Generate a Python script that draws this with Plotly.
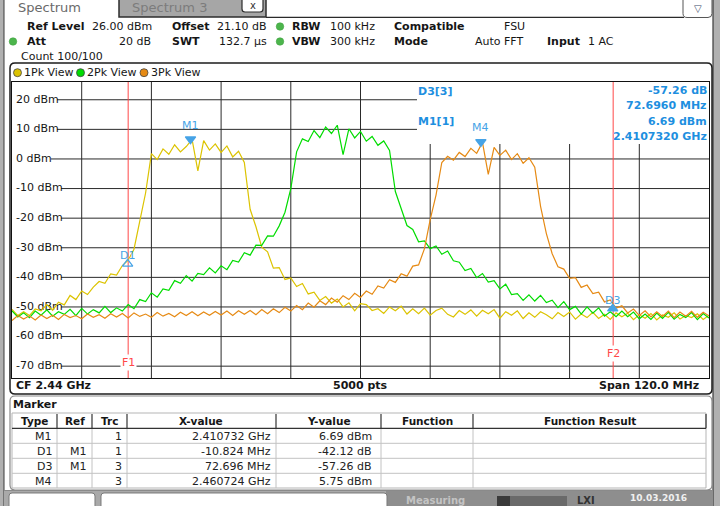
import plotly.graph_objects as go

# ---------------- sweep settings ----------------
f_start_ghz = 2.380
f_stop_ghz = 2.500
n_points = 121
freq_ghz = [round(f_start_ghz + i * (f_stop_ghz - f_start_ghz) / (n_points - 1), 4) for i in range(n_points)]
ref_level_dbm = 26.0
bottom_level_dbm = -74.0

# ---------------- trace values (dBm) ----------------
trace1_dbm = [
    -50.8, -52.9, -51.6, -52.9, -50.7, -51.3, -49.2, -51.1, -48.4, -49.3,
    -46.1, -47.5, -44.6, -45.8, -43.3, -41.4, -42.0, -38.8, -39.2, -36.0,
    -34.2, -30.5, -21.0, -11.5, 1.8, -0.2, 3.4, 1.6, 4.8, 2.4,
    4.2, 6.6, -4.0, 6.2, 3.0, 5.1, 2.2, 4.4, 0.7, 2.6,
    -1.2, -17.0, -22.9, -29.8, -31.4, -36.9, -36.7, -40.7, -40.2, -43.1,
    -42.1, -45.6, -45.0, -47.8, -46.5, -48.7, -47.3, -50.0, -48.6, -51.3,
    -48.9, -49.2, -51.2, -50.6, -52.2, -50.0, -51.3, -49.7, -52.4, -50.6,
    -52.3, -50.4, -52.8, -51.2, -50.4, -52.5, -53.4, -51.2, -52.5, -51.0,
    -53.1, -51.1, -52.3, -50.9, -53.8, -51.6, -52.8, -51.3, -53.9, -52.0,
    -53.5, -51.6, -52.6, -54.0, -51.9, -53.2, -51.7, -54.1, -52.4, -53.6,
    -51.8, -53.9, -52.5, -54.2, -52.0, -53.3, -52.1, -54.3, -52.6, -53.8,
    -52.2, -54.4, -52.7, -53.5, -52.0, -54.1, -52.9, -53.6, -52.3, -54.2,
    -52.8,
]
trace2_dbm = [
    -51.3, -53.4, -52.0, -53.6, -51.4, -52.8, -51.0, -53.1, -51.6, -52.5,
    -50.8, -52.9, -50.5, -52.4, -50.9, -52.0, -49.8, -51.9, -50.3, -51.4,
    -49.2, -50.6, -47.5, -48.2, -45.2, -46.7, -43.9, -44.4, -41.1, -42.0,
    -39.4, -41.3, -38.7, -39.1, -36.8, -38.5, -36.1, -37.4, -34.3, -34.8,
    -31.7, -32.5, -29.1, -29.2, -26.0, -26.1, -22.6, -18.0, -10.0, 2.4,
    6.8, 5.9, 9.6, 7.2, 10.8, 8.6, 11.4, 1.5, 10.2, 7.1,
    9.3, 6.0, 7.6, 4.6, 6.1, 2.9, -11.0, -17.0, -22.5, -23.8,
    -28.0, -27.7, -30.3, -29.4, -32.2, -31.1, -34.4, -34.9, -37.7, -37.0,
    -40.1, -38.7, -41.6, -41.1, -43.9, -42.3, -45.8, -45.5, -47.8, -45.9,
    -48.0, -46.1, -48.5, -47.7, -50.2, -48.2, -50.9, -49.8, -52.4, -50.0,
    -52.1, -50.3, -53.1, -51.6, -53.3, -51.4, -53.3, -51.7, -54.0, -52.4,
    -54.2, -52.1, -53.9, -51.8, -54.1, -52.5, -53.6, -51.9, -54.3, -52.2,
    -53.7,
]
trace3_dbm = [
    -54.6, -52.9, -54.1, -53.0, -54.4, -52.7, -53.9, -52.8, -54.2, -52.5,
    -53.6, -52.9, -54.0, -52.4, -53.5, -52.6, -53.8, -52.3, -53.4, -52.2,
    -53.7, -52.0, -53.2, -52.4, -53.5, -51.9, -53.1, -52.2, -53.3, -51.8,
    -52.9, -51.6, -53.0, -51.7, -52.8, -51.5, -52.7, -51.4, -52.9, -51.3,
    -52.5, -51.2, -52.6, -50.9, -52.3, -50.6, -51.9, -50.1, -51.4, -49.5,
    -50.9, -48.7, -50.1, -47.9, -49.2, -47.0, -48.4, -46.2, -47.5, -45.4,
    -46.8, -44.6, -45.7, -42.9, -43.6, -40.8, -41.7, -38.8, -39.6, -36.2,
    -35.8, -30.4, -20.5, -12.2, -1.2, 0.9, -0.4, 2.2, 0.8, 3.6,
    1.9, 5.6, -5.2, 3.9, 1.2, 3.0, -0.2, 1.8, -1.5, 0.4,
    -2.8, -16.0, -25.2, -32.0, -36.4, -37.2, -40.3, -40.1, -43.4, -42.6,
    -45.5, -45.0, -48.3, -47.6, -50.4, -49.6, -52.0, -50.7, -52.9, -51.3,
    -53.4, -51.6, -53.2, -51.4, -53.6, -51.7, -53.1, -51.5, -53.5, -51.8,
    -53.0,
]
trace_names = ["1Pk View", "2Pk View", "3Pk View"]

# ---------------- axes / grid ----------------
y_ticks = [20, 10, 0, -10, -20, -30, -40, -50, -60, -70]
y_tick_labels = ["20 dBm", "10 dBm", "0 dBm", "-10 dBm", "-20 dBm", "-30 dBm",
                 "-40 dBm", "-50 dBm", "-60 dBm", "-70 dBm"]
x_grid_ghz = [2.392, 2.404, 2.416, 2.428, 2.440, 2.452, 2.464, 2.476, 2.488]

# ---------------- frequency lines ----------------
limit_names = ["F1", "F2"]
limit_freqs_ghz = [2.4000, 2.4835]

# ---------------- markers ----------------
marker_names = ["M1", "D1", "D3", "M4"]
marker_freqs_ghz = [2.410732, 2.399908, 2.483428, 2.460724]
marker_levels_dbm = [6.69, -35.43, -50.57, 5.75]

# ---------------- marker table ----------------
tbl_headers = ["Type", "Ref", "Trc", "X-value", "Y-value", "Function", "Function Result"]
tbl_type = ["M1", "D1", "D3", "M4"]
tbl_ref = ["", "M1", "M1", ""]
tbl_trc = ["1", "1", "3", "3"]
tbl_xval = ["2.410732 GHz", "-10.824 MHz", "72.696 MHz", "2.460724 GHz"]
tbl_yval = ["6.69 dBm", "-42.12 dB", "-57.26 dB", "5.75 dBm"]

# ---------------- styling ----------------
FONT = "DejaVu Sans"
C_YEL = "#dcc300"
C_GRN = "#00dc00"
C_ORG = "#e68a14"
C_BLUE = "#1e8fe0"
C_MBLUE = "#46a3e6"
C_RED = "#ff4848"
C_GRID = "#2a2a2a"

W, H = 720, 506
PL, PR, PT, PB = 12, 709, 82, 378


def px(x):
    return (x - PL) / (PR - PL)


def py(y):
    return (PB - y) / (PB - PT)


def fx(f):
    return PL + (f - f_start_ghz) / (f_stop_ghz - f_start_ghz) * (PR - PL)


shapes = []
annotations = []


def rect(x0, y0, x1, y1, fill=None, line=None, lw=1, layer="below"):
    shapes.append(dict(type="rect", xref="paper", yref="paper",
                       x0=px(x0), x1=px(x1), y0=py(y1), y1=py(y0),
                       fillcolor=fill or "rgba(0,0,0,0)",
                       line=dict(color=line or "rgba(0,0,0,0)", width=lw if line else 0),
                       layer=layer))


def rrect(x0, y0, x1, y1, r, fill=None, line=None, lw=1, layer="below"):
    def P(x, y):
        return f"{px(x):.5f},{py(y):.5f}"
    d = (f"M{P(x0 + r, y0)} L{P(x1 - r, y0)} Q{P(x1, y0)} {P(x1, y0 + r)} "
         f"L{P(x1, y1 - r)} Q{P(x1, y1)} {P(x1 - r, y1)} L{P(x0 + r, y1)} "
         f"Q{P(x0, y1)} {P(x0, y1 - r)} L{P(x0, y0 + r)} Q{P(x0, y0)} {P(x0 + r, y0)} Z")
    shapes.append(dict(type="path", xref="paper", yref="paper", path=d,
                       fillcolor=fill or "rgba(0,0,0,0)",
                       line=dict(color=line or "rgba(0,0,0,0)", width=lw if line else 0),
                       layer=layer))


def seg(x0, y0, x1, y1, color, lw=1, layer="below"):
    shapes.append(dict(type="line", xref="paper", yref="paper",
                       x0=px(x0), x1=px(x1), y0=py(y0), y1=py(y1),
                       line=dict(color=color, width=lw), layer=layer))


def circ(cx, cy, r, fill, line="#333", lw=1, layer="above"):
    shapes.append(dict(type="circle", xref="paper", yref="paper",
                       x0=px(cx - r), x1=px(cx + r), y0=py(cy + r), y1=py(cy - r),
                       fillcolor=fill, line=dict(color=line, width=lw), layer=layer))


def text(x, y, s, size=11, color="#161616", anchor="left", bold=False, bg=None, family=FONT):
    annotations.append(dict(xref="paper", yref="paper", x=px(x), y=py(y),
                            text=("<b>" + s + "</b>") if bold else s, showarrow=False,
                            xanchor=anchor, yanchor="middle",
                            font=dict(family=family, size=size, color=color),
                            bgcolor=bg, borderpad=0))


# ----- window chrome -----
rect(0, 0, 4, 506, fill="#b0b0b0")
seg(4, 0, 4, 506, "#3a3a3a", 1)
rect(713, 0, 720, 506, fill="#b0b0b0")
seg(713, 0, 713, 506, "#3a3a3a", 1.2)

# tabs
text(17, 7, "Spectrum", size=13, color="#6a6a6a")
rect(119, -3, 266, 17, fill="#a6a6a6", line="#2e2e2e", lw=1.5)
text(131, 7, "Spectrum 3", size=13, color="#7c7c7c")
rrect(242, -4, 263, 12, 3, fill="#ffffff", line="#2e2e2e", lw=1.2)
text(252.5, 5.5, "x", size=10, color="#333", anchor="center")
seg(266, 17.3, 684, 17.3, "#2a2a2a", 1.3)
rrect(683, -5, 712, 17.5, 4, fill="#ffffff", line="#555", lw=1)
text(697.5, 9, "▽", size=10, color="#3c4a6a", anchor="center")

# header rows
text(26, 26.5, "Ref Level", bold=True)
text(91, 26.5, "26.00 dBm")
text(171, 26.5, "Offset", bold=True)
text(216, 26.5, "21.10 dB")
circ(280, 26.5, 3.8, "#4cb54c", line="#3f9f3f", lw=0.5)
text(291, 26.5, "RBW", bold=True)
text(329, 26.5, "100 kHz")
text(393, 26.5, "Compatible", bold=True)
text(503, 26.5, "FSU")

circ(13, 41.5, 3.8, "#4cb54c", line="#3f9f3f", lw=0.5)
text(26, 41.5, "Att", bold=True)
text(152, 41.5, "20 dB", anchor="right")
text(171, 41.5, "SWT", bold=True)
text(218, 41.5, "132.7 µs")
circ(280, 41.5, 3.8, "#4cb54c", line="#3f9f3f", lw=0.5)
text(291, 41.5, "VBW", bold=True)
text(329, 41.5, "300 kHz")
text(393, 41.5, "Mode", bold=True)
text(474, 41.5, "Auto FFT")
text(546, 41.5, "Input", bold=True)
text(587, 41.5, "1 AC")
text(19.5, 56.5, "Count 100/100")

# diagram frame
rrect(10, 63, 712, 394, 5, fill="#ffffff", line="#1c1c1c", lw=1.5)
legend_pos = [(17.5, 22.5), (80.5, 85.5), (144, 149.5)]
for (cx, tx), name, col in zip(legend_pos, trace_names, [C_YEL, C_GRN, C_ORG]):
    circ(cx, 72.7, 4, col, line="#444", lw=0.8)
    text(tx, 72.7, name)

# bottom bar of diagram
text(15, 385.8, "CF 2.44 GHz", bold=True)
text(360.5, 385.8, "5000 pts", bold=True, anchor="center")
text(700, 385.8, "Span 120.0 MHz", bold=True, anchor="right")

# ----- grid lines (shapes so that they stop at the in-plot labels) -----
label_end = {20: 57, 10: 57, 0: 51}
for v in y_ticks:
    x0 = label_end.get(v, 61)
    x1 = 417 if v > 5 else PR
    shapes.append(dict(type="line", xref="paper", yref="y", x0=px(x0), x1=px(x1), y0=v, y1=v,
                       line=dict(color=C_GRID, width=1), layer="below"))
for g in x_grid_ghz:
    top = 144 if fx(g) > 417 else PT
    shapes.append(dict(type="line", xref="x", yref="paper", x0=g, x1=g, y0=0, y1=py(top),
                       line=dict(color=C_GRID, width=1), layer="below"))

# frequency lines F1 / F2
for name, f, ly in zip(limit_names, limit_freqs_ghz, [362, 353]):
    shapes.append(dict(type="line", xref="x", yref="paper", x0=f, x1=f, y0=0, y1=1,
                       line=dict(color=C_RED, width=1), layer="below"))
    annotations.append(dict(xref="x", yref="paper", x=f, y=py(ly), text=name, showarrow=False,
                            xanchor="center", yanchor="middle", bgcolor="#ffffff", borderpad=1,
                            font=dict(family=FONT, size=11, color=C_RED)))

# marker info box text
text(417, 91.5, "D3[3]", bold=True, color=C_BLUE)
text(417, 121, "M1[1]", bold=True, color=C_BLUE)
text(708, 91, "-57.26 dB", bold=True, color=C_BLUE, anchor="right")
text(708, 105.5, "72.6960 MHz", bold=True, color=C_BLUE, anchor="right")
text(708, 121, "6.69 dBm", bold=True, color=C_BLUE, anchor="right")
text(708, 136, "2.4107320 GHz", bold=True, color=C_BLUE, anchor="right")

# ----- marker table -----
rrect(10, 396, 712, 490, 5, fill="#ffffff", line="#8a8a8a", lw=1.2)
text(12, 404.5, "Marker", bold=True)
TX0, TX1, TY0, THB, TY1 = 12, 706, 413, 428.3, 488
col_edges = [TX0, 57, 92, 127, 276, 381, 473, TX1]
rect(TX0, TY0, TX1, TY1, line="#b5b5b5", lw=1)
for rl in [443.3, 458.3, 473.3]:
    seg(TX0, rl, TX1, rl, "#c2c2c2", 1)
for ce in col_edges[1:-1]:
    seg(ce, THB, ce, TY1, "#c2c2c2", 1)
for ce in col_edges[1:]:
    seg(ce, TY0 + 1, ce, THB, "#333333", 1.2)
seg(TX0, THB, TX1, THB, "#333333", 1.2)
for i, h in enumerate(tbl_headers):
    text((col_edges[i] + col_edges[i + 1]) / 2, 421, h, size=10.5, bold=True, anchor="center")
row_y = [436, 451, 466, 481]
right_x = [53, 88, 123, 272, 373]
for r in range(4):
    for cx, val in zip(right_x, [tbl_type[r], tbl_ref[r], tbl_trc[r], tbl_xval[r], tbl_yval[r]]):
        if val:
            text(cx, row_y[r], val, anchor="right", color="#222")

# ----- status bar -----
seg(4, 490.5, 713, 490.5, "#8a8a8a", 1)
rect(4, 491, 713, 506, fill="#a9a9a9")
rect(386, 491, 713, 506, fill="#8e8e8e")
rrect(9, 493, 95, 512, 3, fill="#ffffff", line="#7a7a7a", lw=1)
rrect(101, 493, 387, 512, 3, fill="#ffffff", line="#7a7a7a", lw=1)
text(436, 500, "Measuring", size=10, color="#c4c4c4", anchor="center", bold=True)
rect(497, 496, 510, 506, fill="#3a3a3a")
rect(510, 496, 567, 506, fill="#6a6a6a")
text(586, 500, "LXI", size=10, color="#333", anchor="center", bold=True)
text(658, 498, "10.03.2016", size=9, color="#f0f0f0", anchor="center", bold=True)

# ----- traces -----
fig = go.Figure()
fig.add_trace(go.Scatter(
    x=[f_start_ghz + (16 - PL) / (PR - PL) * (f_stop_ghz - f_start_ghz)] * len(y_ticks),
    y=y_ticks, text=y_tick_labels, mode="text", textposition="middle right",
    textfont=dict(family=FONT, size=11, color="#161616"), hoverinfo="skip", showlegend=False))
for vals, col, name in zip([trace1_dbm, trace2_dbm, trace3_dbm], [C_YEL, C_GRN, C_ORG], trace_names):
    fig.add_trace(go.Scatter(x=freq_ghz, y=vals, mode="lines", name=name,
                             line=dict(color=col, width=1.2), showlegend=False))

sym = {"M1": "triangle-down", "M4": "triangle-down", "D1": "triangle-up-open", "D3": "triangle-up"}
lbl_shift = {"M1": 5, "M4": 6, "D1": 0, "D3": 0}
for n, f, lv in zip(marker_names, marker_freqs_ghz, marker_levels_dbm):
    fig.add_trace(go.Scatter(x=[f], y=[lv], mode="markers", showlegend=False,
                             marker=dict(symbol=sym[n], size=9, color=C_MBLUE,
                                         line=dict(color=C_MBLUE, width=1.2))))
    annotations.append(dict(xref="x", yref="y", x=f, y=lv, text=n, showarrow=False,
                            xanchor="center", yanchor="bottom", yshift=lbl_shift[n],
                            font=dict(family=FONT, size=11, color=C_MBLUE)))

fig.update_layout(
    width=W, height=H, autosize=False,
    margin=dict(l=PL, r=W - PR, t=PT, b=H - PB, pad=0),
    paper_bgcolor="#ffffff", plot_bgcolor="rgba(0,0,0,0)",
    showlegend=False,
    xaxis=dict(range=[f_start_ghz, f_stop_ghz], showgrid=False, zeroline=False,
               showticklabels=False, ticks="", showline=True, mirror=True,
               linecolor="#111111", linewidth=1, fixedrange=True),
    yaxis=dict(range=[bottom_level_dbm, ref_level_dbm], showgrid=False, zeroline=False,
               showticklabels=False, ticks="", showline=True, mirror=True,
               linecolor="#111111", linewidth=1, fixedrange=True),
    shapes=shapes, annotations=annotations,
)
fig.write_html("out.html", config={"displayModeBar": False},
               post_script="document.body.style.margin='0';")
